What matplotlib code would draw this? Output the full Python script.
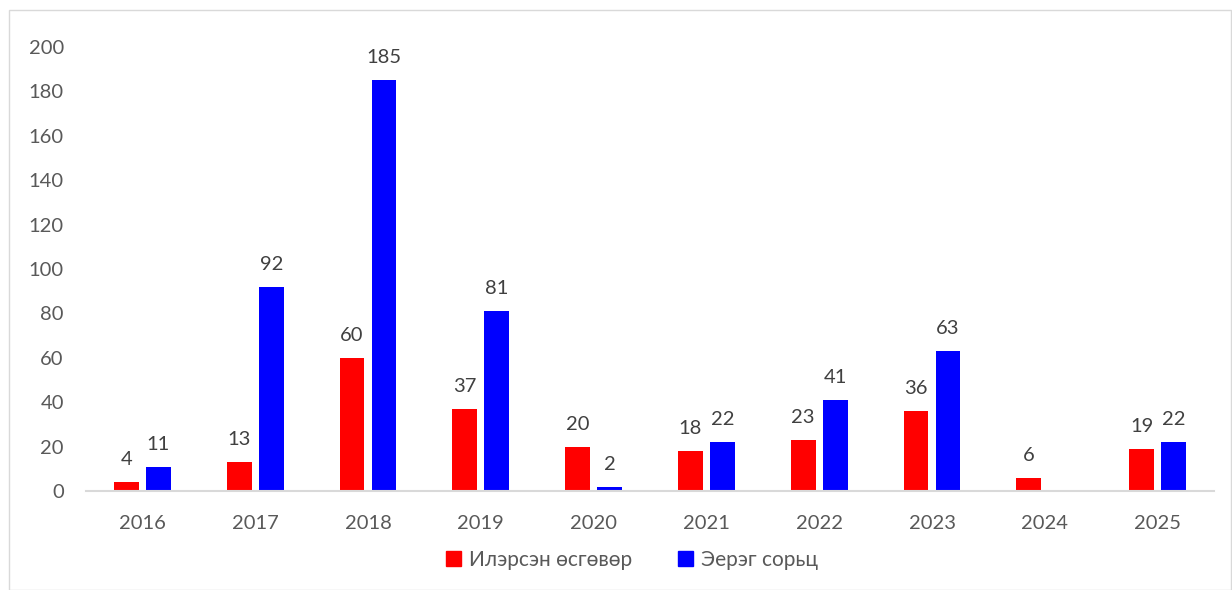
import matplotlib
matplotlib.use("Agg")
import matplotlib.pyplot as plt
import numpy as np
from matplotlib.patches import Rectangle, Patch

years = ["2016", "2017", "2018", "2019", "2020", "2021", "2022", "2023", "2024", "2025"]
detected = [4, 13, 60, 37, 20, 18, 23, 36, 6, 19]
positive = [11, 92, 185, 81, 2, 22, 41, 63, None, 22]
series_names = ["Илэрсэн өсгөвөр", "Эерэг сорьц"]
colors = ["#FF0000", "#0000FF"]

plt.rcParams['font.family'] = ['Lato', 'DejaVu Sans']
txt = "#595959"
fs = 14.5

fig = plt.figure(figsize=(12.32, 5.90), dpi=100)
fig.patches.append(Rectangle((9/1232, 0), 1 - 9/1232 - 0.0005, 1 - 10/590, transform=fig.transFigure,
                             fill=False, edgecolor="#d9d9d9", linewidth=1.0))
ax = fig.add_axes([86/1232, 1 - 491/590, (1214 - 86)/1232, (491 - 47)/590])

x = np.arange(len(years))
w = 0.22
off = 0.142
for vals, sgn, c in [(detected, -1, colors[0]), (positive, 1, colors[1])]:
    for xi, v in zip(x, vals):
        if v is None:
            continue
        ax.bar(xi + sgn * off, v, width=w, color=c)
        ax.annotate(str(v), (xi + sgn * off, v), xytext=(0, 10), textcoords="offset points",
                    ha="center", va="bottom", fontsize=fs, color="#404040")

ax.set_xlim(-0.5, len(years) - 0.5)
ax.set_ylim(0, 200)
ax.set_yticks(range(0, 201, 20))
ax.set_xticks(x)
ax.set_xticklabels(years)
for s in ["top", "right", "left"]:
    ax.spines[s].set_visible(False)
ax.spines["bottom"].set_color("#d9d9d9")
ax.spines["bottom"].set_linewidth(1.5)
ax.tick_params(axis="both", length=0, labelsize=fs, labelcolor=txt)
ax.tick_params(axis="y", pad=16)
ax.tick_params(axis="x", pad=17)

handles = [Patch(color=colors[0]), Patch(color=colors[1])]
fig.legend(handles, series_names, loc="center", bbox_to_anchor=(632/1232, 1 - 560/590), ncol=2,
           frameon=False, fontsize=15, labelcolor=txt, handlelength=0.7, handleheight=0.7,
           handletextpad=0.4, columnspacing=2.2)

fig.savefig("out.png", dpi=100)
